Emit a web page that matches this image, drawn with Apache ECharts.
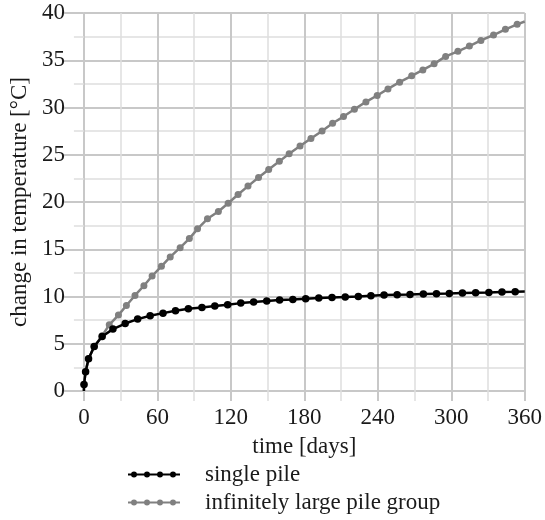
<!DOCTYPE html>
<html>
<head>
<meta charset="utf-8">
<script src="https://cdn.jsdelivr.net/npm/echarts@6/dist/echarts.min.js"></script>
<style>html,body{margin:0;padding:0;background:#fff}#c{width:545px;height:520px}</style>
</head>
<body>
<div id="c"></div>
<script>
// ---- data ----
const singleDays  = [0, 0.1, 1.4, 3.8, 8.4, 14.9, 23.7, 33.7, 43.9, 54.1, 64.6, 74.8, 85.3, 96.4, 106.9, 117.4, 128.1, 138.6, 149.3, 159.8, 170.6, 181.1, 191.8, 202.6, 213.4, 224.1, 234.4, 245.1, 255.8, 266.3, 277.2, 287.9, 298.4, 309.1, 319.9, 330.7, 341.4, 352.2, 360];
const singleTemps = [0, 0.68, 2.05, 3.40, 4.70, 5.76, 6.55, 7.14, 7.61, 7.96, 8.24, 8.49, 8.70, 8.84, 8.99, 9.12, 9.30, 9.41, 9.52, 9.62, 9.69, 9.76, 9.84, 9.90, 9.94, 10.01, 10.08, 10.15, 10.19, 10.22, 10.26, 10.29, 10.32, 10.37, 10.40, 10.43, 10.47, 10.50, 10.53];
const groupDays  = [0, 0.1, 1.4, 3.8, 8.4, 14.9, 20.7, 28.2, 34.7, 41.7, 49.0, 55.7, 63.3, 70.5, 78.6, 86.1, 92.8, 100.9, 109.8, 117.8, 125.9, 134.0, 142.6, 150.9, 159.6, 167.6, 176.5, 185.4, 194.5, 203.1, 212.0, 220.9, 230.3, 239.5, 248.3, 257.8, 267.7, 276.8, 286.0, 295.4, 305.4, 314.8, 324.2, 334.5, 344.2, 353.8, 360];
const groupTemps = [0, 0.68, 2.05, 3.40, 4.72, 5.85, 7.00, 8.03, 9.05, 10.11, 11.14, 12.17, 13.19, 14.19, 15.17, 16.13, 17.16, 18.22, 18.99, 19.87, 20.80, 21.68, 22.60, 23.45, 24.30, 25.11, 25.92, 26.71, 27.51, 28.33, 29.04, 29.81, 30.59, 31.27, 31.97, 32.68, 33.35, 33.98, 34.62, 35.41, 35.94, 36.50, 37.10, 37.67, 38.27, 38.80, 39.10];
const seriesNames = ['single pile', 'infinitely large pile group'];
const xTickLabels = ['0', '60', '120', '180', '240', '300', '360'];
const yTickLabels = ['0', '5', '10', '15', '20', '25', '30', '35', '40'];
const xName = 'time [days]';
const yName = 'change in temperature [°C]';

// ---- helpers ----
function toData(days, temps) {
  return days.map((d, i) => {
    const item = { value: [d, temps[i]] };
    if (i === 0 || i === days.length - 1) item.symbol = 'none';
    return item;
  });
}
function dot(cx) {
  return 'M' + (cx - 3) + ',5 a3,3 0 1,1 6,0 a3,3 0 1,1 -6,0 Z ';
}
const legendIcon = 'path://M0,4 L52,4 L52,6 L0,6 Z ' + dot(6) + dot(19) + dot(32) + dot(45);

const FONT = "'Liberation Serif', 'Times New Roman', serif";
const FS = 23;
const TXT = '#1a1a1a';
const MAJ = '#c8c8c8';
const MIN = '#dedede';

const chart = echarts.init(document.getElementById('c'), null, { renderer: 'canvas' });
chart.setOption({
  animation: false,
  backgroundColor: '#fff',
  textStyle: { fontFamily: FONT, color: TXT },
  grid: { left: 82, right: 17, top: 13, bottom: 129, containLabel: false },
  xAxis: {
    type: 'value', min: 0, max: 360, interval: 60,
    name: xName, nameLocation: 'middle', nameGap: 44,
    nameTextStyle: { fontFamily: FONT, fontSize: FS, color: TXT },
    axisLine: { show: false },
    axisTick: { show: true, length: 10, lineStyle: { color: MAJ, width: 2 } },
    minorTick: { show: true, splitNumber: 2, length: 10, lineStyle: { color: MIN, width: 1.5 } },
    splitLine: { show: true, lineStyle: { color: MAJ, width: 2 } },
    minorSplitLine: { show: true, lineStyle: { color: MIN, width: 1.5 } },
    axisLabel: {
      fontFamily: FONT, fontSize: FS, color: TXT, margin: 15,
      formatter: v => { const s = String(v); return xTickLabels.includes(s) ? s : ''; }
    }
  },
  yAxis: {
    type: 'value', min: 0, max: 40, interval: 5,
    name: yName, nameLocation: 'middle', nameGap: 52,
    nameTextStyle: { fontFamily: FONT, fontSize: FS, color: TXT },
    axisLine: { show: false },
    axisTick: { show: true, length: 20, lineStyle: { color: MAJ, width: 2 } },
    minorTick: { show: true, splitNumber: 2, length: 10, lineStyle: { color: MIN, width: 1.5 } },
    splitLine: { show: true, lineStyle: { color: MAJ, width: 2 } },
    minorSplitLine: { show: true, lineStyle: { color: MIN, width: 1.5 } },
    axisLabel: {
      fontFamily: FONT, fontSize: FS, color: TXT, margin: 19,
      formatter: v => { const s = String(v); return yTickLabels.includes(s) ? s : ''; }
    }
  },
  legend: {
    orient: 'vertical', left: 128, top: 463, itemGap: 5, padding: 0,
    height: 57,
    itemWidth: 52, itemHeight: 10,
    textStyle: { fontFamily: FONT, fontSize: FS, color: TXT, padding: [0, 0, 0, 20] },
    data: [
      { name: seriesNames[0], icon: legendIcon, itemStyle: { color: '#000' } },
      { name: seriesNames[1], icon: legendIcon, itemStyle: { color: '#808080' } }
    ]
  },
  series: [
    {
      name: seriesNames[1], type: 'line', z: 2,
      data: toData(groupDays, groupTemps),
      symbol: 'circle', symbolSize: 7, showAllSymbol: true,
      lineStyle: { color: '#808080', width: 2.5 },
      itemStyle: { color: '#808080' }
    },
    {
      name: seriesNames[0], type: 'line', z: 3,
      data: toData(singleDays, singleTemps),
      symbol: 'circle', symbolSize: 7.5, showAllSymbol: true,
      lineStyle: { color: '#000', width: 2.5 },
      itemStyle: { color: '#000' }
    }
  ]
});
</script>
</body>
</html>
